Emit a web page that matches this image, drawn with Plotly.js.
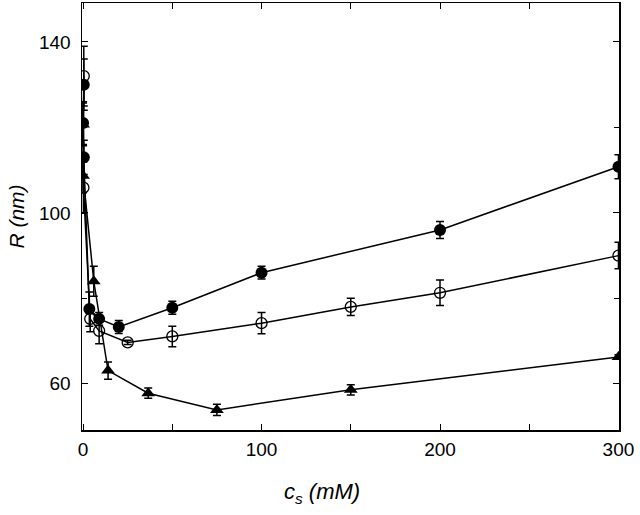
<!DOCTYPE html>
<html>
<head>
<meta charset="utf-8">
<script src="https://cdn.plot.ly/plotly-3.0.1.min.js"></script>
<style>html,body{margin:0;padding:0;background:#fff;}#chart{width:640px;height:515px;}</style>
</head>
<body>
<div id="chart"></div>
<script>
// Filled circles
const filledX = [0.4, 0.0, 0.4, 3.5, 9, 20, 50, 100, 200, 300];
const filledY = [130, 121, 113, 77.5, 75.2, 73.3, 77.8, 86.0, 96.0, 110.8];
const filledErr = [6, 5, 4, 4, 1.5, 1.5, 1.5, 1.5, 2, 2.8];
// Open circles
const openX = [0.4, 0.2, 4, 9, 25, 50, 100, 150, 200, 300];
const openY = [132, 105.9, 75.2, 72.4, 69.7, 71.1, 74.2, 78.0, 81.3, 90.0];
const openErr = [7, 6, 3, 3, 0.5, 2.4, 2.5, 2, 3, 3.1];
// Triangles
const triX = [0.0, 0.0, 6, 14, 36.5, 75, 150, 300];
const triY = [120.7, 108.7, 84.0, 63.1, 57.8, 53.9, 58.6, 66.3];
const triErr = [5, 4, 3.5, 2, 1.2, 1.3, 1.2, 0.5];

const lineStyle = {color: '#000', width: 1.5};
function errBar(arr) {
  return {type: 'data', array: arr, visible: true, color: '#000', thickness: 1.5, width: 4};
}

const traces = [
  {x: filledX, y: filledY, mode: 'lines+markers', line: lineStyle,
   marker: {symbol: 'circle', size: 12, color: '#000'}, error_y: errBar(filledErr)},
  {x: openX, y: openY, mode: 'lines+markers', line: lineStyle,
   marker: {symbol: 'circle-open', size: 11, color: '#000', line: {width: 1.3, color: '#000'}}, error_y: errBar(openErr)},
  {x: triX, y: triY, mode: 'lines+markers', line: lineStyle,
   marker: {symbol: 'triangle-up', size: 12, color: '#000'}, error_y: errBar(triErr)}
];

const fontFamily = 'Liberation Sans, Arial, Helvetica, sans-serif';
const layout = {
  width: 640, height: 515,
  margin: {l: 82, r: 21, t: 3, b: 85},
  paper_bgcolor: '#fff', plot_bgcolor: '#fff',
  showlegend: false,
  font: {family: fontFamily, size: 19, color: '#000'},
  xaxis: {
    range: [-0.6, 300.3], tickvals: [0, 100, 200, 300],
    ticks: 'inside', ticklen: 6, tickwidth: 1, tickcolor: '#000',
    minor: {dtick: 50, tick0: 0, ticks: 'inside', ticklen: 6, tickcolor: '#000'},
    showline: true, linecolor: '#000', linewidth: 1.5, mirror: 'ticks',
    showgrid: false, zeroline: false,
    tickfont: {size: 19}, ticklabelstandoff: 2
  },
  yaxis: {
    range: [49.2, 149.1], tickvals: [60, 100, 140],
    ticks: 'inside', ticklen: 6, tickwidth: 1, tickcolor: '#000',
    minor: {dtick: 20, tick0: 0, ticks: 'inside', ticklen: 5, tickcolor: '#000'},
    showline: true, linecolor: '#000', linewidth: 1.5, mirror: 'ticks',
    showgrid: false, zeroline: false,
    tickfont: {size: 19}, ticklabelstandoff: 6,
    title: {text: '<i>R (nm)</i>', font: {size: 21}, standoff: 8}
  },
  annotations: [{
    text: '<i>c<sub>s</sub> (mM)</i>', xref: 'paper', yref: 'paper',
    x: 0.447, y: -0.148, xanchor: 'center', yanchor: 'middle',
    showarrow: false, font: {size: 22, color: '#000'}
  }]
};

Plotly.newPlot('chart', traces, layout, {displayModeBar: false, staticPlot: true});
</script>
</body>
</html>
